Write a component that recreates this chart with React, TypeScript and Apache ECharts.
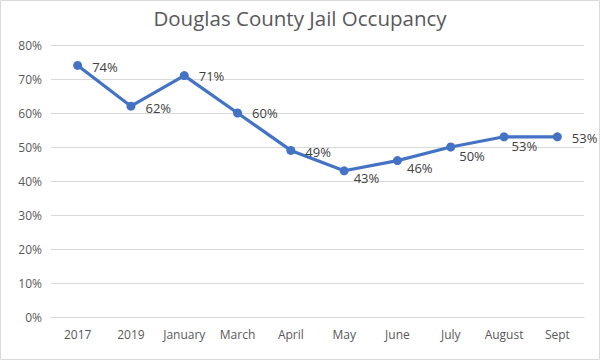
import React, { useEffect, useRef } from "react";
import * as echarts from "echarts";

const categories = ["2017", "2019", "January", "March", "April", "May", "June", "July", "August", "Sept"];
const occupancy = [74, 62, 71, 60, 49, 43, 46, 50, 53, 53];
const yTicks = [0, 10, 20, 30, 40, 50, 60, 70, 80];
// label offsets [dx, dy] relative to default right placement
const labelShift: [number, number][] = [
  [4, 2], [4, 2], [4, 0], [4, 0], [4, 2], [-1, 7], [-1, 7], [-2, 9], [-3, 9], [4, 1],
];

export default function App() {
  const ref = useRef<HTMLDivElement>(null);
  useEffect(() => {
    if (!ref.current) return;
    const chart = echarts.init(ref.current, undefined, { renderer: "svg" });
    chart.setOption({
      animation: false,
      backgroundColor: "#ffffff",
      title: {
        text: "Douglas County Jail Occupancy",
        left: "center",
        top: 2,
        textStyle: { fontFamily: "Open Sans", fontSize: 20.5, fontWeight: "normal", color: "#595959" },
      },
      graphic: [
        {
          type: "rect",
          shape: { x: 0.5, y: 0.5, width: 599, height: 359 },
          style: { fill: "none", stroke: "#d9d9d9", lineWidth: 1 },
          z: 10,
        },
      ],
      grid: { left: 51, right: 16, top: 45, bottom: 43 },
      xAxis: {
        type: "category",
        data: categories,
        boundaryGap: true,
        axisLine: { show: true, lineStyle: { color: "#d9d9d9" } },
        axisTick: { show: false },
        axisLabel: { color: "#595959", fontSize: 12, fontFamily: "Open Sans", margin: 11, interval: 0 },
      },
      yAxis: {
        type: "value",
        min: yTicks[0],
        max: yTicks[yTicks.length - 1],
        interval: 10,
        axisLine: { show: false },
        axisTick: { show: false },
        splitLine: { lineStyle: { color: "#d9d9d9", width: 1 } },
        axisLabel: { color: "#595959", fontSize: 12, fontFamily: "Open Sans", margin: 9, formatter: "{value}%" },
      },
      series: [
        {
          type: "line",
          data: occupancy.map((v, i) => ({
            value: v,
            label: { offset: labelShift[i] },
          })),
          lineStyle: { color: "#4472C4", width: 3.2 },
          itemStyle: { color: "#4472C4" },
          symbol: "circle",
          symbolSize: 9,
          label: {
            show: true,
            position: "right",
            distance: 6,
            color: "#404040",
            fontSize: 13,
            fontFamily: "Open Sans",
            formatter: "{c}%",
          },
        },
      ],
    });
    return () => chart.dispose();
  }, []);
  return <div ref={ref} style={{ position: "absolute", left: 0, top: 0, width: 600, height: 360 }} />;
}
